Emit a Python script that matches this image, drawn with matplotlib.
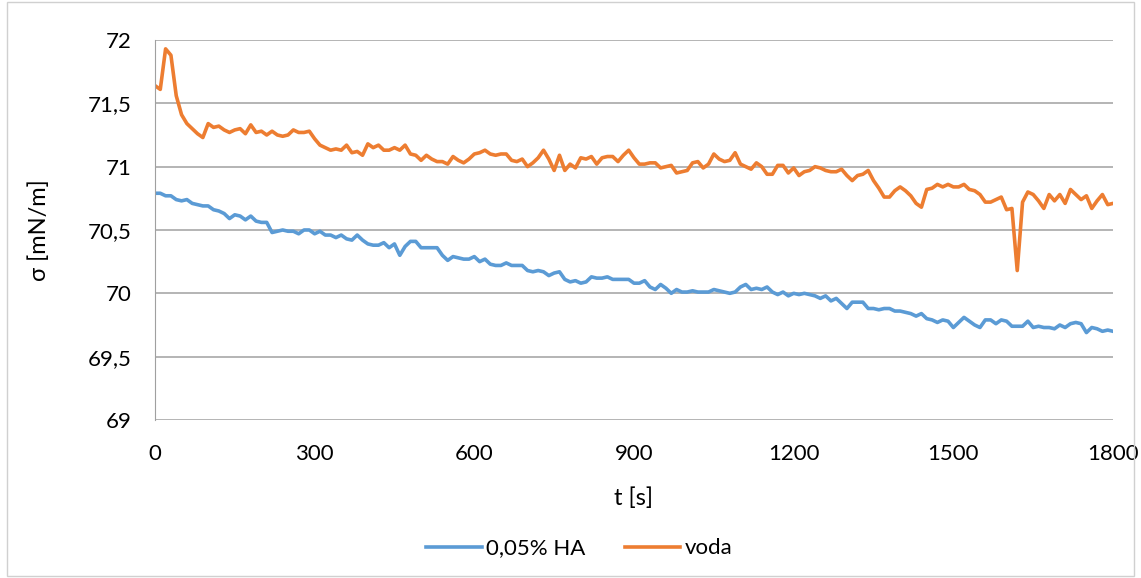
import matplotlib
matplotlib.use("Agg")
import matplotlib.pyplot as plt
import numpy as np
from matplotlib.patches import Rectangle

# time axis, one reading every 10 s
t = np.arange(0, 1801, 10)

voda = [
    71.64, 71.61, 71.93, 71.88, 71.56, 71.41, 71.34, 71.30, 71.26, 71.23,
    71.34, 71.31, 71.32, 71.29, 71.27, 71.29, 71.30, 71.26, 71.33, 71.27,
    71.28, 71.25, 71.28, 71.25, 71.24, 71.25, 71.29, 71.27, 71.27, 71.28,
    71.22, 71.17, 71.15, 71.13, 71.14, 71.13, 71.17, 71.11, 71.12, 71.09,
    71.18, 71.15, 71.17, 71.13, 71.13, 71.15, 71.13, 71.17, 71.10, 71.09,
    71.05, 71.09, 71.06, 71.04, 71.04, 71.02, 71.08, 71.05, 71.03, 71.06,
    71.10, 71.11, 71.13, 71.10, 71.09, 71.10, 71.10, 71.05, 71.04, 71.06,
    71.00, 71.03, 71.07, 71.13, 71.06, 70.97, 71.09, 70.97, 71.02, 70.99,
    71.07, 71.06, 71.08, 71.02, 71.07, 71.08, 71.08, 71.04, 71.09, 71.13,
    71.07, 71.02, 71.02, 71.03, 71.03, 70.99, 71.00, 71.01, 70.95, 70.96,
    70.97, 71.03, 71.04, 70.99, 71.02, 71.10, 71.06, 71.04, 71.05, 71.11,
    71.02, 71.00, 70.98, 71.03, 71.00, 70.94, 70.94, 71.01, 71.01, 70.95,
    70.99, 70.93, 70.96, 70.97, 71.00, 70.99, 70.97, 70.96, 70.96, 70.98,
    70.93, 70.89, 70.93, 70.94, 70.97, 70.89, 70.83, 70.76, 70.76, 70.81,
    70.84, 70.81, 70.77, 70.71, 70.68, 70.82, 70.83, 70.86, 70.84, 70.86,
    70.84, 70.84, 70.86, 70.82, 70.81, 70.78, 70.72, 70.72, 70.74, 70.76,
    70.66, 70.67, 70.18, 70.72, 70.80, 70.78, 70.73, 70.67, 70.78, 70.73,
    70.78, 70.71, 70.82, 70.78, 70.74, 70.77, 70.67, 70.73, 70.78, 70.70,
    70.71,
]

ha = [
    70.79, 70.79, 70.77, 70.77, 70.74, 70.73, 70.74, 70.71, 70.70, 70.69,
    70.69, 70.66, 70.65, 70.63, 70.59, 70.62, 70.61, 70.58, 70.61, 70.57,
    70.56, 70.56, 70.48, 70.49, 70.50, 70.49, 70.49, 70.47, 70.50, 70.50,
    70.47, 70.49, 70.46, 70.46, 70.44, 70.46, 70.43, 70.42, 70.46, 70.42,
    70.39, 70.38, 70.38, 70.40, 70.36, 70.39, 70.30, 70.37, 70.41, 70.41,
    70.36, 70.36, 70.36, 70.36, 70.30, 70.26, 70.29, 70.28, 70.27, 70.27,
    70.29, 70.25, 70.27, 70.23, 70.22, 70.22, 70.24, 70.22, 70.22, 70.22,
    70.18, 70.17, 70.18, 70.17, 70.14, 70.16, 70.17, 70.11, 70.09, 70.10,
    70.08, 70.09, 70.13, 70.12, 70.12, 70.13, 70.11, 70.11, 70.11, 70.11,
    70.08, 70.08, 70.10, 70.05, 70.03, 70.07, 70.04, 70.00, 70.03, 70.01,
    70.01, 70.02, 70.01, 70.01, 70.01, 70.03, 70.02, 70.01, 70.00, 70.01,
    70.05, 70.07, 70.03, 70.04, 70.03, 70.05, 70.01, 69.99, 70.01, 69.98,
    70.00, 69.99, 70.00, 69.99, 69.98, 69.96, 69.98, 69.94, 69.96, 69.92,
    69.88, 69.93, 69.93, 69.93, 69.88, 69.88, 69.87, 69.88, 69.88, 69.86,
    69.86, 69.85, 69.84, 69.82, 69.84, 69.80, 69.79, 69.77, 69.79, 69.78,
    69.73, 69.77, 69.81, 69.78, 69.75, 69.73, 69.79, 69.79, 69.76, 69.79,
    69.78, 69.74, 69.74, 69.74, 69.78, 69.73, 69.74, 69.73, 69.73, 69.72,
    69.75, 69.73, 69.76, 69.77, 69.76, 69.69, 69.73, 69.72, 69.70, 69.71,
    69.70,
]

x_ticks = [0, 300, 600, 900, 1200, 1500, 1800]
y_ticks = [69, 69.5, 70, 70.5, 71, 71.5, 72]
y_labels = ["69", "69,5", "70", "70,5", "71", "71,5", "72"]

plt.rcParams['font.family'] = ['Lato', 'DejaVu Sans']

fig = plt.figure(figsize=(11.41, 5.78), dpi=100)
ax = fig.add_axes([0.1358, 0.2734, 0.8397, 0.6574])

# outer chart border
fig.patches.append(Rectangle((0.006, 0.004), 0.988, 0.992, transform=fig.transFigure,
                             fill=False, edgecolor='#D0D0D0', linewidth=1))

ax.plot(t, ha, color='#5B9BD5', linewidth=2.6, label='0,05% HA', solid_joinstyle='round')
ax.plot(t, voda, color='#ED7D31', linewidth=2.6, label='voda', solid_joinstyle='round')

ax.set_xlim(0, 1800)
ax.set_ylim(69, 72)
ax.set_xticks(x_ticks)
ax.set_yticks(y_ticks)
ax.set_yticklabels(y_labels)
ax.tick_params(axis='both', length=0, labelsize=16)
ax.tick_params(axis='x', pad=17)
ax.tick_params(axis='y', pad=17)
ax.grid(axis='y', color='#A0A0A0', linewidth=1.1)
ax.set_axisbelow(True)
for s in ['top', 'right', 'bottom']:
    ax.spines[s].set_visible(False)
ax.spines['left'].set_color('#A0A0A0')

ax.set_xlabel('t [s]', fontsize=17, labelpad=17)
ax.set_ylabel('σ [mN/m]', fontsize=17, labelpad=27)

ax.legend(loc='upper center', bbox_to_anchor=(0.443, -0.259), ncol=2, frameon=False,
          fontsize=16, handlelength=2.5, columnspacing=1.75, handletextpad=0.2)

fig.savefig('out.png', dpi=100)
